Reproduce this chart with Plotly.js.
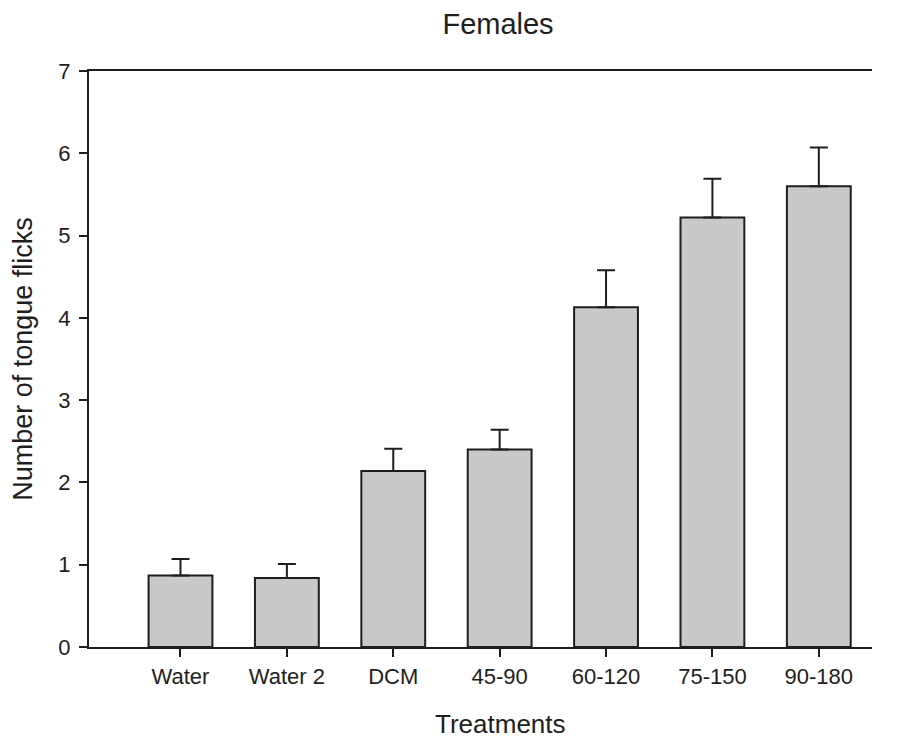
<!DOCTYPE html>
<html>
<head>
<meta charset="utf-8">
<script src="https://cdn.plot.ly/plotly-3.0.1.min.js"></script>
<style>html,body{margin:0;padding:0;background:#fff;}#chart{width:898px;height:740px;}</style>
</head>
<body>
<div id="chart"></div>
<script>
const categories = ["Water", "Water 2", "DCM", "45-90", "60-120", "75-150", "90-180"];
const meanFlicks = [0.87, 0.84, 2.14, 2.40, 4.13, 5.22, 5.60];
const seFlicks = [0.20, 0.17, 0.27, 0.24, 0.45, 0.47, 0.47];
const yTicks = [0, 1, 2, 3, 4, 5, 6, 7];

const trace = {
  type: "bar",
  x: categories,
  y: meanFlicks,
  width: 0.6,
  marker: {color: "#c9c9c9", line: {color: "#1e1e1e", width: 2}},
  error_y: {type: "data", symmetric: false, array: seFlicks, arrayminus: seFlicks.map(() => 0),
            color: "#1e1e1e", thickness: 2, width: 9},
  hoverinfo: "x+y"
};

const font = "'Liberation Sans', Arial, sans-serif";
const layout = {
  width: 898, height: 740,
  margin: {l: 89, r: 26, t: 71, b: 93},
  paper_bgcolor: "#fff", plot_bgcolor: "#fff",
  showlegend: false,
  font: {family: font, color: "#1e1e1e", size: 20},
  title: {text: "Females", font: {family: font, size: 29, color: "#1e1e1e"}, x: 0.5546, xanchor: "center", xref: "container", y: 0.968, yanchor: "middle"},
  xaxis: {
    type: "category",
    range: [-0.86, 6.5],
    showline: true, linecolor: "#1e1e1e", linewidth: 2, mirror: true,
    ticks: "outside", ticklen: 8, tickwidth: 2, tickcolor: "#1e1e1e",
    ticklabelstandoff: 1,
    showgrid: false, zeroline: false,
    tickfont: {family: font, size: 22, color: "#1e1e1e"}
  },
  yaxis: {
    range: [0, 7],
    tickvals: yTicks, ticktext: yTicks.map(String),
    showline: true, linecolor: "#1e1e1e", linewidth: 2,
    ticks: "outside", ticklen: 8, tickwidth: 2, tickcolor: "#1e1e1e",
    ticklabelstandoff: 4,
    showgrid: false, zeroline: false,
    tickfont: {family: font, size: 22, color: "#1e1e1e"},
    title: {text: "Number of tongue flicks", font: {family: font, size: 27, color: "#1e1e1e"}, standoff: 18}
  },
  annotations: [{
    text: "Treatments", showarrow: false,
    xref: "paper", yref: "paper", x: 0.5255, y: -0.1335,
    xanchor: "center", yanchor: "middle", borderpad: 0,
    font: {family: font, size: 26, color: "#1e1e1e"}
  }]
};

Plotly.newPlot("chart", [trace], layout, {displayModeBar: false, staticPlot: true});
</script>
</body>
</html>
